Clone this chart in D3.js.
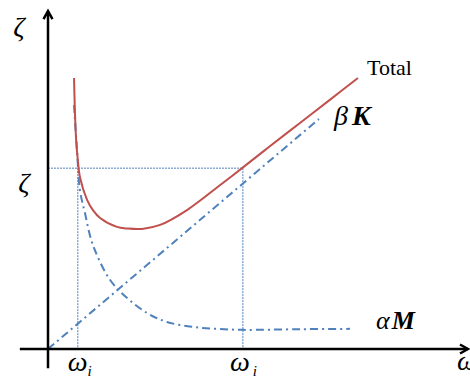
<!DOCTYPE html>
<html>
<head>
<meta charset="utf-8">
<script src="https://cdn.jsdelivr.net/npm/d3@7"></script>
<style>
  html, body { margin: 0; padding: 0; background: #fff; }
  svg { display: block; }
</style>
</head>
<body>
<svg id="chart"></svg>
<script>
// данные (ω — по горизонтали, ζ — по вертикали)
const totalOmega = [0.62, 0.64, 0.67, 0.71, 0.76, 0.93, 1.07, 1.24, 1.64, 1.90, 2.24, 2.67, 3.31, 4.10, 4.62, 5.29, 6.00, 6.71, 7.38];
const totalZeta  = [8.21, 7.24, 6.33, 5.73, 5.21, 4.52, 4.21, 3.97, 3.70, 3.65, 3.64, 3.76, 4.21, 4.97, 5.48, 6.15, 6.85, 7.55, 8.21];

const massOmega = [0.62, 0.69, 0.76, 0.88, 1.07, 1.48, 1.88, 2.36, 2.83, 3.45, 4.02, 4.64, 6.00, 7.19];
const massZeta  = [7.39, 6.03, 4.82, 4.12, 3.15, 2.09, 1.55, 1.09, 0.82, 0.67, 0.61, 0.58, 0.60, 0.61];

const stiffOmega = [0, 6.45];
const stiffZeta  = [0, 6.97];

const omegaMarks = [0.71, 4.64]; // ωi, ωj
const zetaMark = 5.48;

const width = 470, height = 379;
const serif = "'Liberation Serif', 'Times New Roman', 'DejaVu Serif', serif";

const svg = d3.select("#chart")
    .attr("width", width)
    .attr("height", height)
    .attr("font-family", serif);

const x = d3.scaleLinear().domain([0, 10]).range([48, 468]);
const y = d3.scaleLinear().domain([0, 10]).range([349, 19]);

const blue = "#4f81bd", red = "#c0504d";

// пунктирные вспомогательные линии
svg.append("line")
    .attr("x1", x(0)).attr("x2", x(omegaMarks[1]))
    .attr("y1", y(zetaMark)).attr("y2", y(zetaMark))
    .attr("stroke", blue).attr("stroke-width", 1)
    .attr("stroke-dasharray", "2,1");

svg.selectAll("line.vref")
    .data(omegaMarks)
    .enter()
    .append("line")
    .attr("class", "vref")
    .attr("x1", d => x(d)).attr("x2", d => x(d))
    .attr("y1", y(zetaMark)).attr("y2", y(0))
    .attr("stroke", blue).attr("stroke-width", 1)
    .attr("stroke-dasharray", "2,1");

const line = d3.line()
    .x(d => x(d[0]))
    .y(d => y(d[1]))
    .curve(d3.curveCatmullRom.alpha(0.5));

// βK
svg.append("path")
    .attr("d", line(d3.zip(stiffOmega, stiffZeta)))
    .attr("fill", "none")
    .attr("stroke", blue).attr("stroke-width", 2)
    .attr("stroke-dasharray", "8,4,2,4");

// αM
svg.append("path")
    .attr("d", line(d3.zip(massOmega, massZeta)))
    .attr("fill", "none")
    .attr("stroke", blue).attr("stroke-width", 2)
    .attr("stroke-dasharray", "8,4,2,4");

// суммарная кривая
svg.append("path")
    .attr("d", line(d3.zip(totalOmega, totalZeta)))
    .attr("fill", "none")
    .attr("stroke", red).attr("stroke-width", 2);

// оси со стрелками
const axes = svg.append("g")
    .attr("fill", "none")
    .attr("stroke", "#000")
    .attr("stroke-width", 2.5);

axes.append("line")
    .attr("x1", x(-0.67)).attr("x2", x(10.0))
    .attr("y1", y(0)).attr("y2", y(0));
axes.append("path")
    .attr("d", `M${x(10.0) - 8},${y(0) - 4.5} L${x(10.0)},${y(0)} L${x(10.0) - 8},${y(0) + 4.5}`);

axes.append("line")
    .attr("x1", x(0)).attr("x2", x(0))
    .attr("y1", y(-0.58)).attr("y2", y(10.24));
axes.append("path")
    .attr("d", `M${x(0) - 4.5},${y(10.24) + 8} L${x(0)},${y(10.24)} L${x(0) + 4.5},${y(10.24) + 8}`);

// подписи
svg.append("text")
    .attr("x", 19).attr("y", 36)
    .attr("text-anchor", "middle")
    .attr("font-style", "italic").attr("font-size", 28)
    .text("ζ");

svg.append("text")
    .attr("x", 24).attr("y", y(zetaMark) + 24)
    .attr("text-anchor", "middle")
    .attr("font-style", "italic").attr("font-size", 28)
    .text("ζ");

const omegaLabels = svg.selectAll("text.om")
    .data(omegaMarks)
    .enter()
    .append("text")
    .attr("class", "om")
    .attr("x", (d, i) => x(d) - 10 + (i ? -3 : 0))
    .attr("y", 371)
    .attr("font-style", "italic").attr("font-size", 28);
omegaLabels.append("tspan").text("ω");
omegaLabels.append("tspan")
    .attr("font-size", 15).attr("dx", (d, i) => i ? 3 : 0).attr("dy", 5)
    .text("i");

svg.append("text")
    .attr("x", 457).attr("y", 370)
    .attr("font-style", "italic").attr("font-size", 28)
    .text("ω");

svg.append("text")
    .attr("x", 367).attr("y", 75)
    .attr("font-size", 22)
    .text("Total");

const bk = svg.append("text")
    .attr("x", 334).attr("y", 125)
    .attr("font-size", 28);
bk.append("tspan").attr("font-style", "italic").text("β");
bk.append("tspan").attr("font-style", "italic").attr("font-weight", "bold").attr("dx", 4).text("K");

const am = svg.append("text")
    .attr("x", 376).attr("y", 329)
    .attr("font-size", 26);
am.append("tspan").attr("font-style", "italic").text("α");
am.append("tspan").attr("font-style", "italic").attr("font-weight", "bold").attr("dx", 2).text("M");
</script>
</body>
</html>
